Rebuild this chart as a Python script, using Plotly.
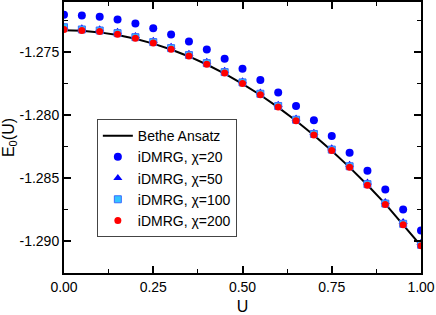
import plotly.graph_objects as go

U = [0.00, 0.05, 0.10, 0.15, 0.20, 0.25, 0.30, 0.35, 0.40, 0.45, 0.50,
     0.55, 0.60, 0.65, 0.70, 0.75, 0.80, 0.85, 0.90, 0.95, 1.00]

bethe = [-1.27324, -1.27328, -1.27341, -1.27362, -1.27392, -1.27430, -1.27477,
         -1.27532, -1.27596, -1.27668, -1.27749, -1.27838, -1.27936, -1.28042,
         -1.28157, -1.28280, -1.28412, -1.28552, -1.28701, -1.28866, -1.29035]

chi20 = [-1.27202, -1.27207, -1.27218, -1.27239, -1.27270, -1.27308, -1.27357,
         -1.27413, -1.27476, -1.27551, -1.27630, -1.27719, -1.27817, -1.27925,
         -1.28039, -1.28163, -1.28295, -1.28438, -1.28588, -1.28747, -1.28913]

chi50 = [-1.27300, -1.27308, -1.27316, -1.27337, -1.27369, -1.27408, -1.27456,
         -1.27511, -1.27575, -1.27646, -1.27728, -1.27818, -1.27915, -1.28024,
         -1.28137, -1.28261, -1.28391, -1.28533, -1.28687, -1.28846, -1.29010]

chi100 = [-1.27300, -1.27318, -1.27326, -1.27347, -1.27379, -1.27418, -1.27466,
          -1.27521, -1.27585, -1.27656, -1.27738, -1.27828, -1.27925, -1.28034,
          -1.28147, -1.28271, -1.28403, -1.28545, -1.28699, -1.28860, -1.29026]

chi200 = [-1.27318, -1.27326, -1.27334, -1.27355, -1.27387, -1.27426, -1.27474,
          -1.27529, -1.27593, -1.27664, -1.27746, -1.27836, -1.27933, -1.28042,
          -1.28155, -1.28279, -1.28411, -1.28553, -1.28707, -1.28868, -1.29034]

x_ticks = [0.0, 0.25, 0.5, 0.75, 1.0]
x_tick_labels = ["0.00", "0.25", "0.50", "0.75", "1.00"]
y_ticks = [-1.290, -1.285, -1.280, -1.275]
y_tick_labels = ["-1.290", "-1.285", "-1.280", "-1.275"]

FONT = "Liberation Sans, Arial, sans-serif"

fig = go.Figure()
fig.add_trace(go.Scatter(x=U, y=bethe, mode="lines", name="Bethe Ansatz",
                         line=dict(color="black", width=2)))
fig.add_trace(go.Scatter(x=U, y=chi20, mode="markers", name="iDMRG, χ=20",
                         marker=dict(symbol="circle", size=8, color="#0000ff",
                                     line=dict(width=0))))
fig.add_trace(go.Scatter(x=U, y=chi50, mode="markers", name="iDMRG, χ=50",
                         marker=dict(symbol="triangle-up", size=8, color="#0000ff",
                                     line=dict(width=0))))
fig.add_trace(go.Scatter(x=U, y=chi100, mode="markers", name="iDMRG, χ=100",
                         marker=dict(symbol="square", size=7, color="#33c4ff",
                                     line=dict(width=1, color="#3a6cff"))))
fig.add_trace(go.Scatter(x=U, y=chi200, mode="markers", name="iDMRG, χ=200",
                         marker=dict(symbol="circle", size=7, color="#ff0000",
                                     line=dict(width=0))))

axis_common = dict(
    showline=True, linecolor="black", linewidth=2, mirror="ticks",
    ticks="inside", ticklen=7, tickwidth=1.5, tickcolor="black",
    showgrid=False, zeroline=False,
    tickfont=dict(family=FONT, size=14, color="black"),
)

fig.update_xaxes(range=[0, 1], tickvals=x_ticks, ticktext=x_tick_labels,
                 minor=dict(ticks="inside", ticklen=4, tickwidth=1, dtick=0.125,
                            tickcolor="black"),
                 title=dict(text="U", font=dict(family=FONT, size=16, color="black"),
                            standoff=13),
                 **axis_common)
fig.update_yaxes(range=[-1.2925, -1.2710], tickvals=y_ticks, ticktext=y_tick_labels,
                 minor=dict(ticks="inside", ticklen=4, tickwidth=1, dtick=0.0025,
                            tickcolor="black"),
                 title=dict(text="E<sub>0</sub>(U)",
                            font=dict(family=FONT, size=16, color="black"),
                            standoff=4),
                 **axis_common)

fig.update_layout(
    width=436, height=315,
    margin=dict(l=64, r=15, t=2, b=42, autoexpand=False),
    plot_bgcolor="white", paper_bgcolor="white",
    font=dict(family=FONT, size=14, color="black"),
    showlegend=True,
    legend=dict(x=0.092, y=0.568, xanchor="left", yanchor="top",
                bgcolor="white", bordercolor="#444444", borderwidth=1,
                font=dict(family=FONT, size=14, color="black"),
                itemwidth=30, tracegroupgap=0, traceorder="normal"),
)

fig.write_html("out.html", config={"displayModeBar": False},
               post_script="document.body.style.margin='0';document.body.style.padding='0';")
